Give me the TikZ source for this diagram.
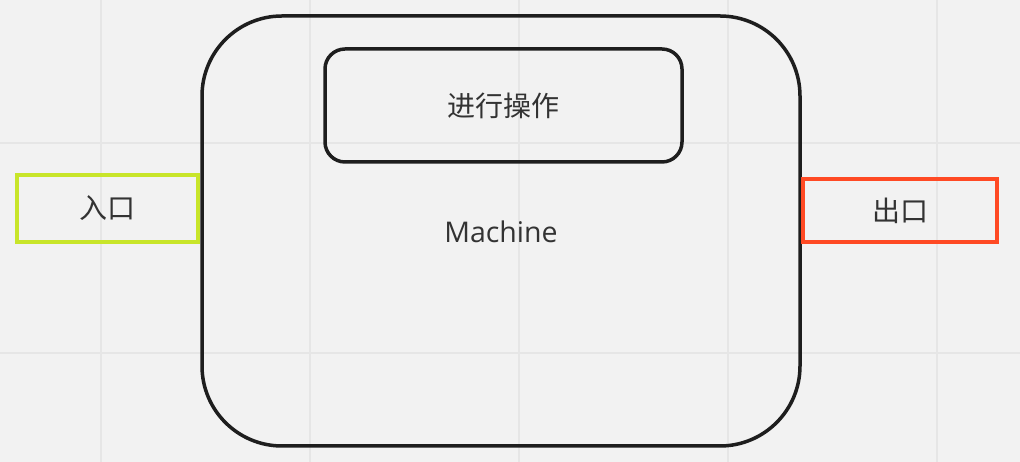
\documentclass[tikz,border=0pt]{standalone}
\usepackage{fontspec}
\setmainfont{Open Sans}
\newfontfamily\cjk{Noto Sans CJK SC}
\definecolor{bg}{HTML}{F2F2F2}
\definecolor{gridc}{HTML}{E6E6E6}
\definecolor{txt}{HTML}{333333}
\definecolor{ingreen}{HTML}{C8E52A}
\definecolor{outred}{HTML}{FF4A24}
\definecolor{frame}{HTML}{1E1E1E}
\tikzset{
  lbl/.style={text=txt, font=\fontsize{28.5}{32}\selectfont},
  cjklbl/.style={text=txt, font=\cjk\fontsize{28}{32}\selectfont},
  portbox/.style={draw, line width=3.5pt, minimum height=#1, inner sep=0pt, cjklbl},
}
\begin{document}
\begin{tikzpicture}[x=1pt,y=1pt]
\fill[bg] (0,0) rectangle (1020,462);
\useasboundingbox (0,0) rectangle (1020,462);
% grid
\foreach \gx in {101,310,519,728,937} \draw[gridc, line width=1.5pt] (\gx,0) -- (\gx,462);
\foreach \gy in {109,319} \draw[gridc, line width=1.5pt] (0,\gy) -- (1020,\gy);
% machine
\node[draw=frame, line width=3.5pt, rounded corners=80pt, minimum width=598pt, minimum height=430pt, inner sep=0pt] (machine) at (501,231) {};
\node[lbl] (mtext) at (501,230) {Machine};
\node[draw=frame, line width=3.5pt, rounded corners=20pt, minimum width=357pt, minimum height=113pt, inner sep=0pt, cjklbl] (op) at (503.5,356.5) {进行操作};
% ports
\node[portbox=67pt, draw=ingreen, minimum width=181pt] (in) at (107.5,253.5) {入口};
\node[portbox=63pt, draw=outred, minimum width=194pt] (out) at (900,251.5) {出口};
\end{tikzpicture}
\end{document}
